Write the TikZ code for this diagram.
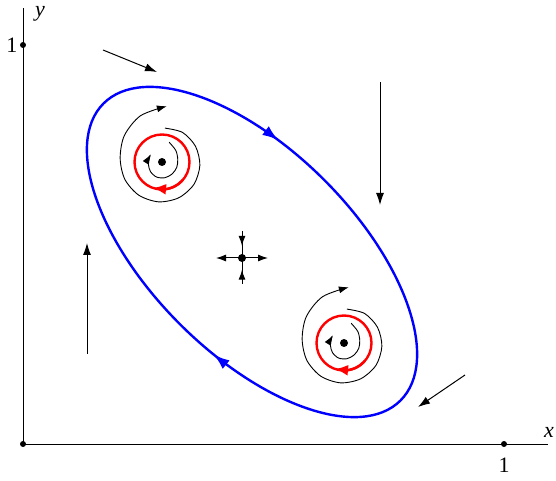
\documentclass[tikz,border=0pt]{standalone}
\usepackage{fontspec}
\setmainfont{Liberation Serif}
\usetikzlibrary{arrows.meta, bending, decorations.markings}

\begin{document}
\begin{tikzpicture}[
  x=1pt, y=1pt,
  every node/.style={font=\fontsize{22}{26}\selectfont},
  axis/.style={line width=0.6pt},
  dot/.style={circle, fill, inner sep=0pt, minimum size=#1},
  dot/.default=8pt,
  flow/.style={-{Latex[length=12pt,width=8pt]}, line width=1pt},
  orbit/.style={line width=0.9pt, -{Latex[length=10pt,width=7pt,quick]}},
  limcyc/.style={red, line width=2.4pt},
  bigcyc/.style={blue, line width=2.4pt}
]
\useasboundingbox (-23,-37) rectangle (533,444);

% axes
\node[dot=6pt] (o)  at (0,0)   {};
\node[dot=6pt] (x1) at (481,0) {};
\node[dot=6pt] (y1) at (0,399) {};
\coordinate (xend) at (525,0);
\coordinate (yend) at (0,436);
\draw[axis] (o.center) -- (xend);
\draw[axis] (o.center) -- (yend);
\node (xl)  at (526,12)  {\textit{x}};
\node[inner sep=1pt] (yl) at (17,430) {\textit{y}};
\node (x1l) at (481,-21) {1};
\node (y1l) at (-11,399) {1};

% outer periodic orbit
\node[inner sep=0pt] (c) at (229,192) {};
\draw[bigcyc, rotate around={-45:(c)}, postaction={decorate}, decoration={markings,
    mark=at position 0.31 with {\arrowreversed{Latex[length=16pt,width=11pt]}},
    mark=at position 0.795 with {\arrowreversed{Latex[length=16pt,width=11pt]}}}]
  (c) ellipse (210 and 102);

% foci with unstable limit cycles
\foreach \cx/\cy/\n in {139/282/a, 321/101/b}{
  \begin{scope}[shift={(\cx,\cy)}]
    \node[dot] (f\n) at (0,0) {};
    \draw[limcyc] (0,0) circle (27.5);
    \draw[limcyc, -{Latex[length=13pt,width=11pt]}]
      (320:27.5) arc[start angle=320, end angle=251, radius=27.5];
    % spiralling out
    \draw[orbit] plot[smooth] coordinates {(85:34) (55:36) (25:37) (-5:38)
      (-35:39) (-65:39.5) (-95:40) (-125:40.5) (-155:41) (-185:42)
      (-215:46) (-245:51) (-275:56)};
    % spiralling in
    \draw[orbit] plot[smooth] coordinates {(70:21) (40:18) (10:16) (-20:15.7)
      (-50:15.7) (-80:16) (-110:16) (-140:15) (-170:13.8) (-200:13.3)
      (-215:13.5)};
  \end{scope}
}

% saddle
\node[dot] (s) at (219,186) {};
\coordinate (sN) at (219,213);
\coordinate (sS) at (219,160);
\coordinate (sW) at (193,186);
\coordinate (sE) at (245,186);
\draw[line width=1pt, postaction={decorate}, decoration={markings,
    mark=at position 0.55 with {\arrow{Latex[length=10pt,width=7pt]}}}]
  (sN) -- (s.center);
\draw[line width=1pt, postaction={decorate}, decoration={markings,
    mark=at position 0.55 with {\arrow{Latex[length=10pt,width=7pt]}}}]
  (sS) -- (s.center);
\draw[line width=1pt, -{Latex[length=10pt,width=7pt]}] (s.center) -- (sW);
\draw[line width=1pt, -{Latex[length=10pt,width=7pt]}] (s.center) -- (sE);

% flow direction far away
\coordinate (fa0) at (80,394);  \coordinate (fa1) at (134,372);
\coordinate (fb0) at (357,362); \coordinate (fb1) at (357,239);
\coordinate (fc0) at (64,90);   \coordinate (fc1) at (64,201);
\coordinate (fd0) at (442,69);  \coordinate (fd1) at (395,37);
\draw[flow] (fa0) -- (fa1);
\draw[flow] (fb0) -- (fb1);
\draw[flow] (fc0) -- (fc1);
\draw[flow] (fd0) -- (fd1);

\end{tikzpicture}
\end{document}
